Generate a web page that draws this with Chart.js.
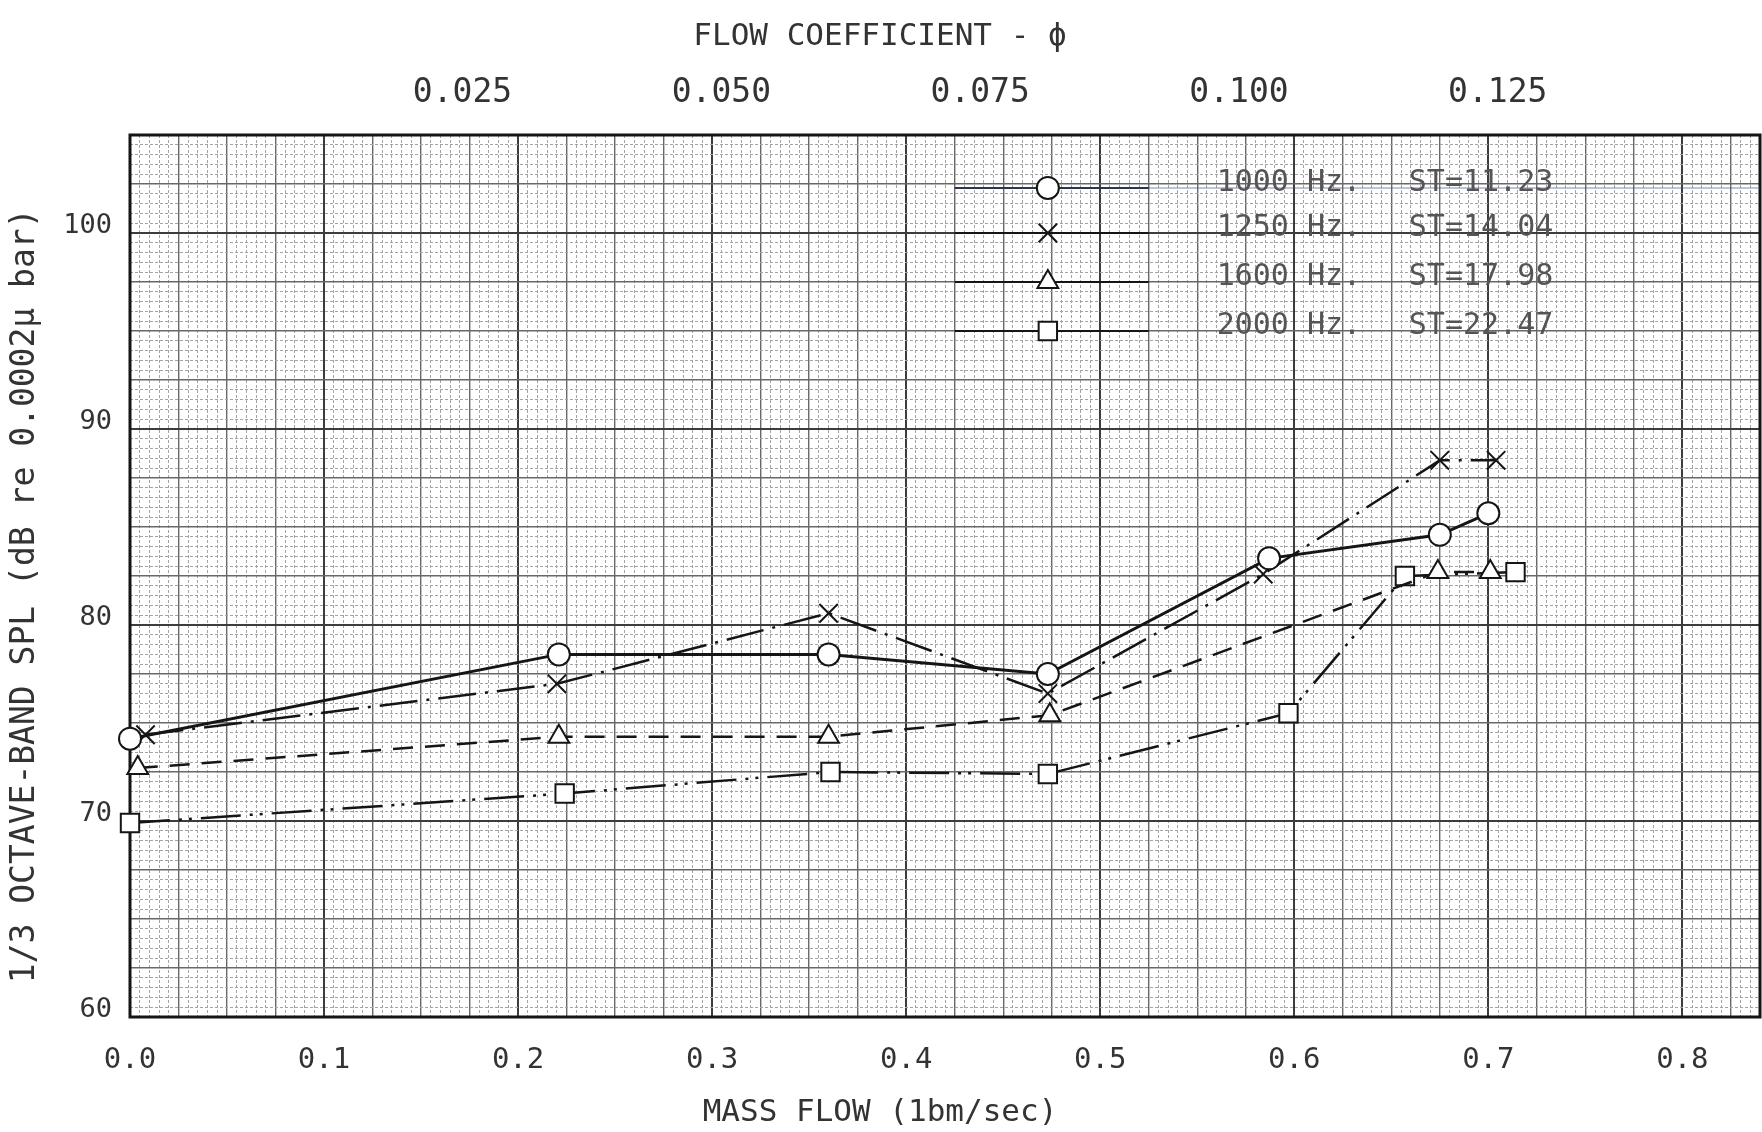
<!DOCTYPE html>
<html>
<head>
<meta charset="utf-8">
<title>1/3 Octave-Band SPL vs Mass Flow</title>
<style>
  body { margin: 0; background: #fff; }
  canvas { display: block; }
</style>
</head>
<body>
<canvas id="splChart" width="1762" height="1132"></canvas>

<script src="https://cdn.jsdelivr.net/npm/chart.js"></script>
<script>
// values: mass flow (lbm/sec) and SPL (dB)
const flow1000 = [0.000, 0.221, 0.360, 0.473, 0.587, 0.675, 0.700];
const spl1000  = [74.2, 78.5, 78.5, 77.5, 83.4, 84.6, 85.7];
const flow1250 = [0.008, 0.220, 0.360, 0.473, 0.584, 0.675, 0.704];
const spl1250  = [74.4, 77.0, 80.6, 76.5, 82.6, 88.4, 88.4];
const flow1600 = [0.004, 0.221, 0.360, 0.474, 0.674, 0.701];
const spl1600  = [72.7, 74.3, 74.3, 75.4, 82.7, 82.7];
const flow2000 = [0.000, 0.224, 0.361, 0.473, 0.597, 0.657, 0.714];
const spl2000  = [69.9, 71.4, 72.5, 72.4, 75.5, 82.5, 82.7];

const seriesNames = ['1000 Hz.', '1250 Hz.', '1600 Hz.', '2000 Hz.'];
const strouhal = ['ST=11.23', 'ST=14.04', 'ST=17.98', 'ST=22.47'];

const flowTicks = [0.0, 0.1, 0.2, 0.3, 0.4, 0.5, 0.6, 0.7, 0.8];
const phiTicks = [0.025, 0.050, 0.075, 0.100, 0.125];
const phiTickLabels = ['0.025', '0.050', '0.075', '0.100', '0.125'];
const splTicks = [60, 70, 80, 90, 100];

// flow coefficient vs mass flow, as typed along the top edge
const flowAtZeroPhi = 0.0124;
const flowPerPhi = 5.335;

const FLOW_MAX = 0.84;
const MONO = '"DejaVu Sans Mono", "Liberation Mono", monospace';
const INK = '#151515';

// graph paper: fine lines every 0.005 lbm/sec and 0.5 dB
const paperX = [];
for (let k = 0; k * 0.005 <= FLOW_MAX + 1e-9; k++) paperX.push(+(k * 0.005).toFixed(3));
const paperY = [];
for (let k = 0; k <= 90; k++) paperY.push(60 + k * 0.5);

function xRank(v) {
    const k = Math.round(v / 0.005);
    if (k % 20 === 0) return 2;
    if (k % 5 === 0) return 1;
    return 0;
}
function yRank(v) {
    const k = Math.round((v - 60) / 0.5);
    if (k % 20 === 0) return 2;
    if (k % 5 === 0) return 1;
    return 0;
}
const gridColor = ['#a4a4a4', '#686868', '#3c3c3c'];
const gridWidth = [1, 1.4, 2];

function points(xs, ys) {
    return xs.map((x, i) => ({x: x, y: ys[i]}));
}

function series(label, xs, ys, style, radius, dash, width) {
    return {
        label: label,
        data: points(xs, ys),
        borderColor: INK,
        borderWidth: width,
        borderDash: dash,
        pointStyle: style,
        pointRadius: radius,
        pointBorderWidth: 2,
        pointBorderColor: INK,
        pointBackgroundColor: '#fff',
        tension: 0,
        clip: false
    };
}

// no label overhang padding: the paper runs to the edge
function noOverhang(s) {
    s.paddingLeft = 0;
    s.paddingRight = 0;
    s.paddingTop = 0;
    s.paddingBottom = 0;
}

// heavy frame round the plotting area
const framePlugin = {
    id: 'frame',
    beforeDatasetsDraw(chart) {
        const a = chart.chartArea;
        const ctx = chart.ctx;
        ctx.save();
        ctx.strokeStyle = INK;
        ctx.lineWidth = 3;
        ctx.strokeRect(a.left, a.top, a.right - a.left, a.bottom - a.top);
        ctx.restore();
    }
};

// typed legend inside the plot, upper right
const paperLegend = {
    id: 'paperLegend',
    afterDatasetsDraw(chart, args, opts) {
        const ctx = chart.ctx;
        const x = chart.scales.x, y = chart.scales.y;
        ctx.save();
        chart.data.datasets.forEach((ds, i) => {
            const py = y.getPixelForValue(opts.rows[i]);
            ctx.setLineDash([]);
            ctx.strokeStyle = i === 0 ? '#2c3550' : INK;
            ctx.lineWidth = 2;
            ctx.beginPath();
            ctx.moveTo(x.getPixelForValue(opts.lineFrom), py);
            ctx.lineTo(x.getPixelForValue(opts.lineTo), py);
            ctx.stroke();
            if (i === 0) {
                ctx.strokeStyle = 'rgba(60,80,150,0.45)';
                ctx.lineWidth = 1.5;
                ctx.beginPath();
                ctx.moveTo(x.getPixelForValue(opts.lineTo), py);
                ctx.lineTo(chart.chartArea.right, py);
                ctx.stroke();
            }
            ctx.fillStyle = '#fff';
            ctx.strokeStyle = INK;
            ctx.lineWidth = 2;
            Chart.helpers.drawPoint(ctx, {
                pointStyle: ds.pointStyle, radius: ds.pointRadius, borderWidth: 2, rotation: 0
            }, x.getPixelForValue(opts.markerAt), py);

            ctx.fillStyle = '#555';
            ctx.font = '30px ' + MONO;
            ctx.textAlign = 'left';
            ctx.textBaseline = 'middle';
            ctx.fillText(seriesNames[i], x.getPixelForValue(opts.nameAt), py - 5);
            ctx.fillText(strouhal[i], x.getPixelForValue(opts.stAt), py - 5);
        });
        ctx.restore();
    }
};

new Chart(document.getElementById('splChart'), {
    type: 'line',
    data: {
        datasets: [
            series(seriesNames[0], flow1000, spl1000, 'circle', 11, [], 3),
            series(seriesNames[1], flow1250, spl1250, 'crossRot', 13, [38, 9, 3, 9], 2.5),
            series(seriesNames[2], flow1600, spl1600, 'triangle', 12, [20, 12], 2.5),
            series(seriesNames[3], flow2000, spl2000, 'rect', 13, [40, 9, 3, 7, 3, 9], 2.5)
        ]
    },
    options: {
        responsive: false,
        animation: false,
        events: [],
        layout: { autoPadding: false, padding: { right: 2 } },
        plugins: {
            legend: { display: false },
            tooltip: { enabled: false },
            title: {
                display: true,
                text: 'FLOW COEFFICIENT - ϕ',
                color: '#333',
                font: { family: MONO, size: 31, weight: 'normal', lineHeight: 1.2 },
                padding: { top: 18, bottom: 0 }
            },
            subtitle: {
                display: true,
                position: 'bottom',
                text: 'MASS FLOW (1bm/sec)',
                color: '#333',
                font: { family: MONO, size: 31, weight: 'normal', lineHeight: 1.2 },
                padding: { top: 0, bottom: 0 }
            },
            paperLegend: {
                rows: [102.3, 100, 97.5, 95],
                lineFrom: 0.425,
                lineTo: 0.525,
                markerAt: 0.473,
                nameAt: 0.560,
                stAt: 0.659
            }
        },
        scales: {
            x: {
                type: 'linear',
                position: 'bottom',
                min: 0,
                max: FLOW_MAX,
                afterBuildTicks: s => { s.ticks = paperX.map(v => ({value: v})); },
                afterFit: s => { s.height = 77.8; noOverhang(s); },
                ticks: {
                    autoSkip: false,
                    maxRotation: 0,
                    padding: 0,
                    color: '#333',
                    font: { family: MONO, size: 29 },
                    callback: v => {
                        const t = flowTicks.find(f => Math.abs(f - v) < 1e-6);
                        return t === undefined ? '' : t.toFixed(1);
                    }
                },
                grid: {
                    drawTicks: true,
                    tickLength: 26,
                    tickWidth: 0,
                    color: c => gridColor[xRank(c.tick.value)],
                    lineWidth: c => gridWidth[xRank(c.tick.value)]
                },
                border: {
                    display: false,
                    dash: c => (c.tick && xRank(c.tick.value) === 0) ? [3, 2] : []
                }
            },
            phi: {
                type: 'linear',
                position: 'top',
                min: (0 - flowAtZeroPhi) / flowPerPhi,
                max: (FLOW_MAX - flowAtZeroPhi) / flowPerPhi,
                afterBuildTicks: s => { s.ticks = phiTicks.map(v => ({value: v})); },
                afterFit: s => { s.height = 79.8; noOverhang(s); },
                ticks: {
                    autoSkip: false,
                    maxRotation: 0,
                    align: 'start',
                    padding: 0,
                    color: '#333',
                    font: { family: MONO, size: 33 },
                    callback: (v, i) => phiTickLabels[i]
                },
                grid: { display: false, drawTicks: true, tickLength: 22 },
                border: { display: false }
            },
            y: {
                type: 'linear',
                min: 60,
                max: 105,
                afterBuildTicks: s => { s.ticks = paperY.map(v => ({value: v})); },
                afterFit: s => { s.width = 130; noOverhang(s); },
                ticks: {
                    autoSkip: false,
                    padding: 18,
                    labelOffset: -7,
                    color: '#333',
                    font: { family: MONO, size: 27 },
                    callback: v => splTicks.includes(v) ? String(v) : ''
                },
                grid: {
                    drawTicks: false,
                    color: c => gridColor[yRank(c.tick.value)],
                    lineWidth: c => gridWidth[yRank(c.tick.value)]
                },
                border: {
                    display: false,
                    dash: c => (c.tick && yRank(c.tick.value) === 0) ? [3, 2] : []
                },
                title: {
                    display: true,
                    text: '1/3 OCTAVE-BAND SPL (dB re 0.0002μ bar)  ',
                    color: '#333',
                    font: { family: MONO, size: 33, weight: 'normal', lineHeight: 1.2 },
                    padding: { top: 6, bottom: 0 }
                }
            }
        }
    },
    plugins: [framePlugin, paperLegend]
});
</script>
</body>
</html>
